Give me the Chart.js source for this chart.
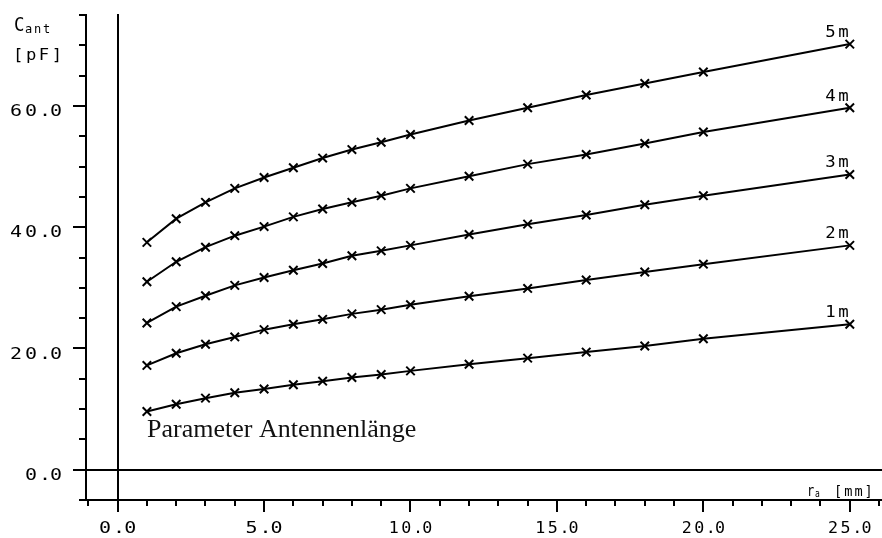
<!DOCTYPE html>
<html>
<head>
<meta charset="utf-8">
<title>Antennenkapazität</title>
<script src="https://cdn.jsdelivr.net/npm/chart.js@4.4.1/dist/chart.umd.min.js"></script>
<style>
  html, body { margin: 0; padding: 0; background: #fff; }
  canvas { display: block; }
</style>
</head>
<body>
<canvas id="capChart" width="882" height="538"></canvas>
<script>
// Radius r_a [mm] of the antenna wire
const radius = [1, 2, 3, 4, 5, 6, 7, 8, 9, 10, 12, 14, 16, 18, 20, 25];

// C_ant [pF] per antenna length
const cap1m = [9.6, 10.8, 11.8, 12.7, 13.3, 14.0, 14.6, 15.2, 15.7, 16.3, 17.4, 18.4, 19.4, 20.4, 21.6, 24.0];
const cap2m = [17.2, 19.2, 20.7, 21.9, 23.1, 24.0, 24.8, 25.7, 26.4, 27.2, 28.6, 29.9, 31.3, 32.6, 33.9, 37.0];
const cap3m = [24.2, 26.9, 28.7, 30.4, 31.7, 32.9, 34.0, 35.3, 36.1, 37.0, 38.8, 40.5, 42.0, 43.7, 45.2, 48.7];
const cap4m = [31.0, 34.3, 36.7, 38.6, 40.1, 41.7, 43.0, 44.1, 45.2, 46.4, 48.4, 50.4, 52.0, 53.8, 55.7, 59.7];
const cap5m = [37.5, 41.4, 44.1, 46.4, 48.2, 49.8, 51.4, 52.8, 54.0, 55.3, 57.6, 59.7, 61.8, 63.7, 65.6, 70.2];

const lengthLabels = ['1m', '2m', '3m', '4m', '5m'];
const yTickValues  = [0, 20, 40, 60];
const yTickLabels  = ['0.0', '20.0', '40.0', '60.0'];
const xTickValues  = [0, 5, 10, 15, 20, 25];
const xTickLabels  = ['0.0', '5.0', '10.0', '15.0', '20.0', '25.0'];

const series = [cap1m, cap2m, cap3m, cap4m, cap5m];
const PLOT = '"DejaVu Sans Mono", "Liberation Mono", monospace';

// plotter style lettering: fixed cells (narrow for '.'), glyphs stretched to fill
function cellWidth(ch, d) { return ch === '.' ? 0.67 * d : d; }
function plotWidth(text, d) {
  let w = 0;
  for (const ch of text) w += cellWidth(ch, d);
  return w - 0.2 * d;
}
function drawPlot(ctx, text, x, y, d, size, align) {
  const total = plotWidth(text, d);
  let cx = x;
  if (align === 'right') cx = x - total;
  if (align === 'center') cx = x - total / 2;
  const sx = (0.8 * d) / (0.6 * size);
  ctx.font = size + 'px ' + PLOT;
  ctx.textAlign = 'center';
  for (const ch of text) {
    const cw = cellWidth(ch, d);
    ctx.save();
    ctx.translate(cx + (ch === '.' ? cw / 2 : 0.4 * d), y);
    ctx.scale(sx, 1);
    ctx.fillText(ch, 0, 0);
    ctx.restore();
    cx += cw;
  }
}

const plotterAxes = {
  id: 'plotterAxes',
  beforeDatasetsDraw(chart) {
    const { ctx, chartArea: a, scales: { x, y } } = chart;
    ctx.save();
    ctx.strokeStyle = '#000';
    ctx.fillStyle = '#000';
    ctx.lineWidth = 2;
    ctx.lineCap = 'square';

    // spines
    ctx.beginPath();
    ctx.moveTo(a.left, a.top);
    ctx.lineTo(a.left, a.bottom);
    ctx.lineTo(a.right, a.bottom);
    ctx.stroke();

    // left ticks every 5, longer at labelled values
    ctx.beginPath();
    for (let v = -5; v <= 75; v += 5) {
      const py = Math.round(y.getPixelForValue(v));
      const len = v % 20 === 0 ? 12 : 6;
      ctx.moveTo(a.left - len, py);
      ctx.lineTo(a.left, py);
    }
    // bottom ticks every 1, longer every 5
    for (let v = -1; v <= 26; v++) {
      const px = Math.round(x.getPixelForValue(v));
      const len = v % 5 === 0 ? 11 : 5;
      ctx.moveTo(px, a.bottom);
      ctx.lineTo(px, a.bottom + len);
    }
    ctx.stroke();

    // zero lines
    const x0 = Math.round(x.getPixelForValue(0));
    const y0 = Math.round(y.getPixelForValue(0));
    ctx.beginPath();
    ctx.moveTo(x0, a.top);
    ctx.lineTo(x0, a.bottom);
    ctx.moveTo(a.left - 12, y0);
    ctx.lineTo(a.right, y0);
    ctx.stroke();

    // tick labels
    ctx.textBaseline = 'middle';
    yTickValues.forEach((v, i) => {
      drawPlot(ctx, yTickLabels[i], 62, y.getPixelForValue(v) + 6, 15, 16, 'right');
    });
    xTickValues.forEach((v, i) => {
      const txt = xTickLabels[i];
      const d = txt.length > 3 ? 12.5 : 15;
      drawPlot(ctx, txt, x.getPixelForValue(v), 529, d, 16, 'center');
    });

    // axis titles
    ctx.textBaseline = 'alphabetic';
    drawPlot(ctx, 'C', 14, 31, 13, 19, 'left');
    drawPlot(ctx, 'ant', 25, 33, 9, 12, 'left');
    drawPlot(ctx, '[pF]', 13, 60, 12.9, 16, 'left');

    drawPlot(ctx, 'r', 807, 496, 9, 15, 'left');
    drawPlot(ctx, 'a', 815, 497, 6, 10, 'left');
    drawPlot(ctx, '[mm]', 834, 496, 10.2, 14, 'left');

    // curve labels at the last point
    const xl = x.getPixelForValue(radius[radius.length - 1]);
    series.forEach((s, i) => {
      const yl = y.getPixelForValue(s[s.length - 1]);
      drawPlot(ctx, lengthLabels[i], xl - 1, yl - 7, 13, 15, 'right');
    });

    ctx.font = '26px "Liberation Serif", "Times New Roman", serif';
    ctx.textAlign = 'left';
    ctx.fillStyle = '#111';
    ctx.fillText('Parameter Antennenlänge', 147, 437);
    ctx.restore();
  }
};

const datasets = series.map((s, i) => ({
  label: lengthLabels[i],
  data: radius.map((r, j) => ({ x: r, y: s[j] })),
  borderColor: '#000',
  borderWidth: 2,
  pointStyle: 'crossRot',
  pointRadius: 6,
  pointBorderWidth: 2,
  pointBorderColor: '#000',
  fill: false,
  tension: 0
}));

new Chart(document.getElementById('capChart'), {
  type: 'line',
  data: { datasets },
  options: {
    responsive: false,
    animation: false,
    layout: { autoPadding: false, padding: { left: 86, top: 15, right: 0, bottom: 38 } },
    scales: {
      x: { type: 'linear', min: -1.08, max: 26.1, display: false },
      y: { type: 'linear', min: -5, max: 75, display: false }
    },
    plugins: {
      legend: { display: false },
      tooltip: { enabled: false }
    }
  },
  plugins: [plotterAxes]
});
</script>
</body>
</html>
